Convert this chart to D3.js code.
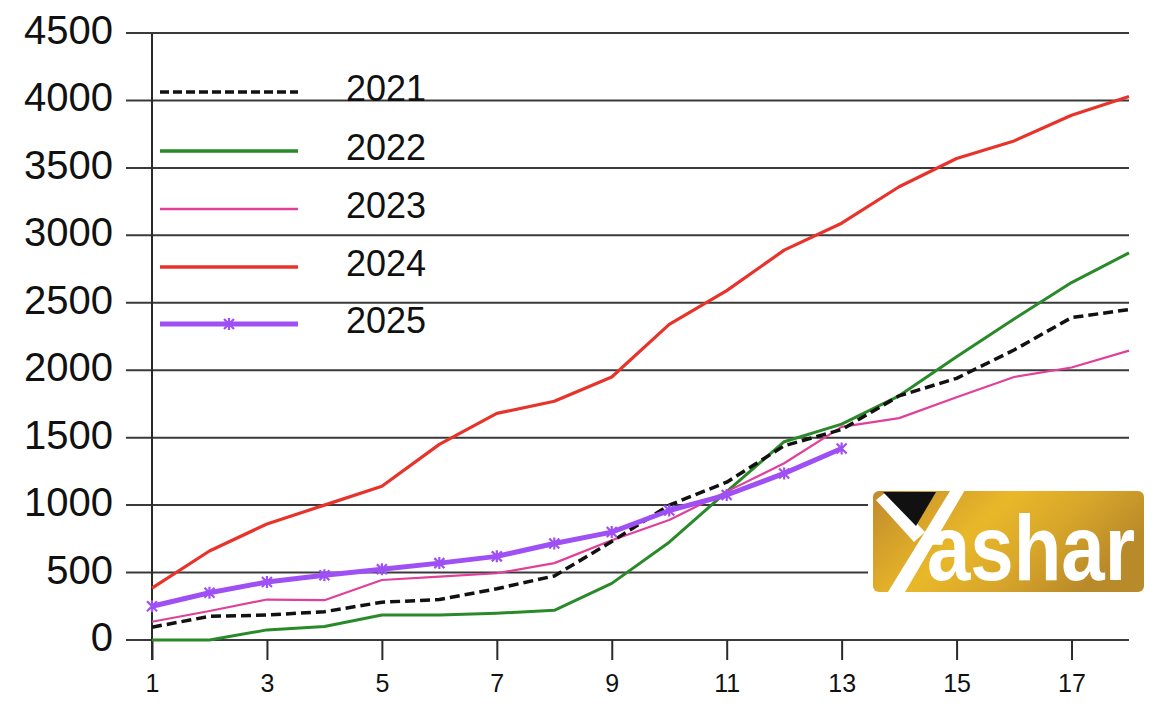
<!DOCTYPE html>
<html>
<head>
<meta charset="utf-8">
<script src="https://cdn.jsdelivr.net/npm/d3@7"></script>
<style>
  html, body { margin: 0; padding: 0; background: #fff; }
  svg { display: block; }
  text { font-family: "Liberation Sans", Arial, sans-serif; fill: #111; }
</style>
</head>
<body>
<svg id="chart" width="1171" height="716"></svg>
<script>
// ---- data ----
const weeks = [1,2,3,4,5,6,7,8,9,10,11,12,13,14,15,16,17,18];
const years = ["2021","2022","2023","2024","2025"];
const s2021 = [95,175,185,210,280,300,380,475,730,1000,1170,1440,1560,1810,1940,2150,2390,2450];
const s2022 = [0,0,75,100,185,185,198,220,420,725,1100,1470,1600,1810,2100,2380,2650,2870];
const s2023 = [135,215,300,295,445,470,495,570,740,890,1100,1310,1580,1645,1800,1950,2020,2145];
const s2024 = [385,660,860,1000,1140,1450,1680,1770,1950,2340,2590,2890,3090,3360,3570,3700,3890,4030];
const s2025 = [250,350,430,480,525,570,620,715,800,960,1075,1235,1420];
const yTicks = [0,500,1000,1500,2000,2500,3000,3500,4000,4500];
const xTicks = [1,3,5,7,9,11,13,15,17];

(function(){
// ---- styles ----
const styles = {
  "2021": {color:"#111111", width:3.5, dash:"10,5"},
  "2022": {color:"#2a8a2a", width:3, dash:null},
  "2023": {color:"#e0409a", width:2.2, dash:null},
  "2024": {color:"#e8332b", width:3.2, dash:null},
  "2025": {color:"#9f50f5", width:5, dash:null, marker:true}
};
const seriesData = {"2021":s2021,"2022":s2022,"2023":s2023,"2024":s2024,"2025":s2025};

const svg = d3.select("#chart");
const pL = 152, pR = 1129, pT = 33, pB = 640;
const x = d3.scaleLinear().domain([1,18]).range([pL, pR]);
const y = d3.scaleLinear().domain([0,4500]).range([pB, pT]);

// gridlines
svg.append("g").selectAll("line").data(yTicks).join("line")
  .attr("x1", 126).attr("x2", pR)
  .attr("y1", d => y(d)).attr("y2", d => y(d))
  .attr("stroke", "#3a3a3a").attr("stroke-width", 2);
// y labels
svg.append("g").selectAll("text").data(yTicks).join("text")
  .attr("x", 113).attr("y", d => y(d) + 11)
  .attr("text-anchor", "end")
  .style("font-size", "40px")
  .text(d => d);

// y axis line
svg.append("line").attr("x1", pL).attr("x2", pL).attr("y1", pT).attr("y2", pB + 20)
  .attr("stroke", "#2a2a2a").attr("stroke-width", 2);

// x axis ticks + labels
const xAxis = d3.axisBottom(x).tickValues(xTicks).tickSize(20).tickPadding(14).tickFormat(d3.format("d"));
const gx = svg.append("g").attr("transform", `translate(0,${pB})`).call(xAxis);
gx.select(".domain").remove();
gx.selectAll(".tick line").attr("stroke", "#2a2a2a").attr("stroke-width", 2);
gx.selectAll(".tick text").style("font-size", "25px").attr("fill", "#111")
  .style("font-family", "\"Liberation Sans\", Arial, sans-serif");

// logo background (white) covering gridlines
svg.append("rect").attr("x", 868).attr("y", 470).attr("width", 261).attr("height", 132).attr("fill", "#fff");

// lines
const line = d3.line().x((d,i) => x(weeks[i])).y(d => y(d));
const drawOrder = ["2022","2023","2024","2021","2025"];
drawOrder.forEach(k => {
  const st = styles[k];
  svg.append("path").datum(seriesData[k])
    .attr("d", line).attr("fill", "none")
    .attr("stroke", st.color).attr("stroke-width", st.width)
    .attr("stroke-linejoin", "round")
    .attr("stroke-dasharray", st.dash);
});

// markers for 2025
function xMark(g, cx, cy, col) {
  const s = 5;
  g.append("path").attr("d", `M${cx-s},${cy-s}L${cx+s},${cy+s}M${cx-s},${cy+s}L${cx+s},${cy-s}M${cx},${cy-s-1}L${cx},${cy+s+1}`)
    .attr("stroke", col).attr("stroke-width", 2.2).attr("fill", "none");
}
const mg = svg.append("g");
s2025.forEach((v,i) => xMark(mg, x(weeks[i]), y(v), styles["2025"].color));

// legend
const legY = [92, 151, 209, 267, 324];
years.forEach((k,i) => {
  const st = styles[k];
  svg.append("line").attr("x1", 160).attr("x2", 298).attr("y1", legY[i]).attr("y2", legY[i])
    .attr("stroke", st.color).attr("stroke-width", k === "2025" ? 5 : (k === "2023" ? 2.5 : 3.5))
    .attr("stroke-dasharray", k === "2021" ? "9,4" : null);
  if (st.marker) xMark(svg, 229, legY[i], st.color);
  svg.append("text").attr("x", 346).attr("y", legY[i] + 9)
    .style("font-size", "36px").text(k);
});

// logo
const defs = svg.append("defs");
const grad = defs.append("linearGradient").attr("id", "gold").attr("x1", "0").attr("x2", "1").attr("y1", "0").attr("y2", "0.4");
grad.append("stop").attr("offset", "0").attr("stop-color", "#c08a2c");
grad.append("stop").attr("offset", "0.45").attr("stop-color", "#e9b829");
grad.append("stop").attr("offset", "0.7").attr("stop-color", "#d9a72a");
grad.append("stop").attr("offset", "1").attr("stop-color", "#b98a2a");
svg.append("rect").attr("x", 873).attr("y", 491).attr("width", 271).attr("height", 101).attr("rx", 6)
  .attr("fill", "url(#gold)");
svg.append("path").attr("d", "M876,500 L886,492 L925,532 L914,542 Z").attr("fill", "#fff");
svg.append("path").attr("d", "M888,592 L905,592 L972,478 L958,478 Z").attr("fill", "#fff");
svg.append("path").attr("d", "M883,492 L936,492 L916,526 Z").attr("fill", "#111");
svg.append("text").attr("x", 927).attr("y", 580)
  .attr("textLength", 208).attr("lengthAdjust", "spacingAndGlyphs")
  .style("font-family", "\"Liberation Sans Narrow\", \"Liberation Sans\", Arial, sans-serif")
  .style("font-weight", "bold").style("font-size", "92px").style("fill", "#fff")
  .text("ashar");
})();
</script>
</body>
</html>
